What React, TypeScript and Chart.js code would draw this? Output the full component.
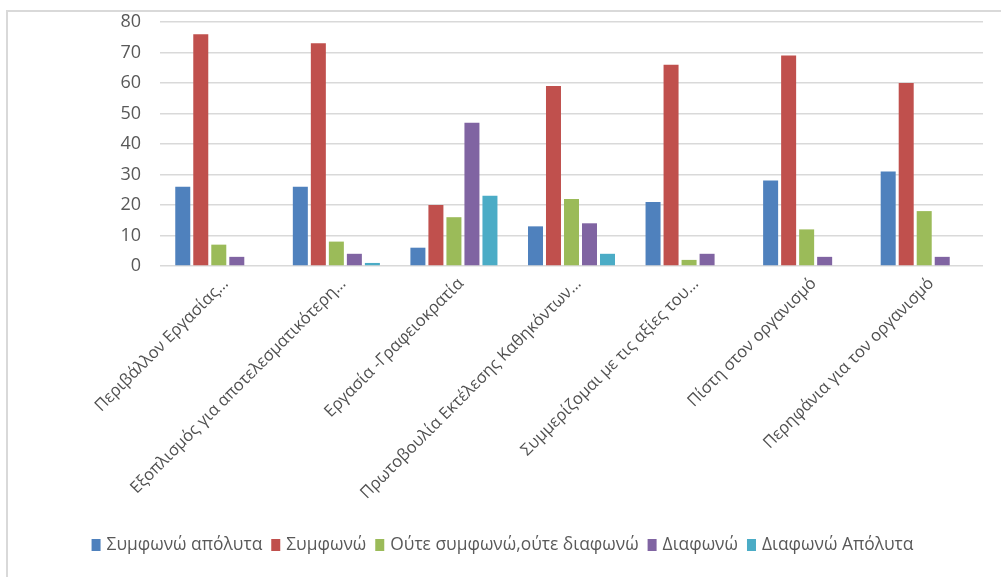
import React, { useEffect, useRef } from "react";
import { Chart, registerables } from "chart.js";

Chart.register(...registerables);

const categories = [
  "Περιβάλλον Εργασίας…",
  "Εξοπλισμός για αποτελεσματικότερη…",
  "Εργασία -Γραφειοκρατία",
  "Πρωτοβουλία Εκτέλεσης Καθηκόντων…",
  "Συμμερίζομαι με τις αξίες του…",
  "Πίστη στον οργανισμό",
  "Περηφάνια για τον οργανισμό",
];

const seriesNames = [
  "Συμφωνώ απόλυτα",
  "Συμφωνώ",
  "Ούτε συμφωνώ,ούτε διαφωνώ",
  "Διαφωνώ",
  "Διαφωνώ Απόλυτα",
];

const agreeFully = [26, 26, 6, 13, 21, 28, 31];
const agree = [76, 73, 20, 59, 66, 69, 60];
const neutral = [7, 8, 16, 22, 2, 12, 18];
const disagree = [3, 4, 47, 14, 4, 3, 3];
const disagreeFully = [0, 1, 23, 4, 0, 0, 0];

const seriesColors = ["#4F81BD", "#C0504D", "#9BBB59", "#8064A2", "#4BACC6"];

const yTicks = [0, 10, 20, 30, 40, 50, 60, 70, 80];

const FONT = "'Open Sans', 'DejaVu Sans', sans-serif";
const TEXT_COLOR = "#595959";

// Light frame around the chart object
const framePlugin = {
  id: "frame",
  beforeDraw(chart: any) {
    const { ctx, width, height } = chart;
    ctx.save();
    ctx.fillStyle = "#ffffff";
    ctx.fillRect(0, 0, width, height);
    ctx.strokeStyle = "#d9d9d9";
    ctx.lineWidth = 2;
    ctx.beginPath();
    ctx.moveTo(7, height);
    ctx.lineTo(7, 11);
    ctx.lineTo(width, 11);
    ctx.stroke();
    ctx.restore();
  },
};

// Compact legend row under the axis labels
const legendPlugin = {
  id: "compactLegend",
  afterDraw(chart: any) {
    const { ctx, width } = chart;
    const datasets = chart.data.datasets;
    const boxW = 9;
    const boxH = 12;
    const boxGap = 6;
    const itemGap = 9;
    const centerY = 545;
    ctx.save();
    ctx.font = `17.4px ${FONT}`;
    ctx.textBaseline = "middle";
    const widths = datasets.map((d: any) => ctx.measureText(d.label).width);
    const total =
      widths.reduce((a: number, b: number) => a + b, 0) +
      datasets.length * (boxW + boxGap) +
      (datasets.length - 1) * itemGap;
    let x = width / 2 + 2 - total / 2;
    datasets.forEach((d: any, i: number) => {
      ctx.fillStyle = d.backgroundColor;
      ctx.fillRect(x, centerY - boxH / 2, boxW, boxH);
      x += boxW + boxGap;
      ctx.fillStyle = TEXT_COLOR;
      ctx.fillText(d.label, x, centerY);
      x += widths[i] + itemGap;
    });
    ctx.restore();
  },
};

export default function App() {
  const ref = useRef<HTMLCanvasElement | null>(null);

  useEffect(() => {
    if (!ref.current) return;
    const values = [agreeFully, agree, neutral, disagree, disagreeFully];
    const chart = new Chart(ref.current, {
      type: "bar",
      data: {
        labels: categories,
        datasets: seriesNames.map((name, i) => ({
          label: name,
          data: values[i],
          backgroundColor: seriesColors[i],
          borderWidth: 0,
          categoryPercentage: 0.766,
          barPercentage: 0.833,
        })),
      },
      options: {
        animation: false,
        responsive: false,
        layout: { padding: { top: 22, right: 18, bottom: 50, left: 0 } },
        plugins: {
          tooltip: { enabled: false },
          legend: { display: false },
        },
        scales: {
          x: {
            grid: { display: false },
            border: { display: false },
            ticks: {
              color: "#505050",
              font: { family: FONT, size: 16.5 },
              minRotation: 45,
              maxRotation: 45,
              autoSkip: false,
              padding: 0,
              labelOffset: 7,
            },
            afterFit(scale: any) {
              scale.height = 261;
            },
          },
          y: {
            min: 0,
            max: 80,
            afterBuildTicks(scale: any) {
              scale.ticks = yTicks.map((v) => ({ value: v }));
            },
            grid: {
              color: "#d9d9d9",
              lineWidth: 1.5,
              drawTicks: true,
              tickLength: 19,
              tickWidth: 0,
              tickColor: "rgba(0,0,0,0)",
            },
            border: { display: false },
            ticks: {
              color: TEXT_COLOR,
              font: { family: FONT, size: 18 },
              padding: 0,
            },
            afterFit(scale: any) {
              scale.width = 160;
            },
          },
        },
      },
      plugins: [framePlugin, legendPlugin],
    });
    return () => chart.destroy();
  }, []);

  return (
    <div style={{ position: "absolute", left: 0, top: 0, width: 1001, height: 577, background: "#fff" }}>
      <canvas ref={ref} width={1001} height={577} style={{ display: "block" }} />
    </div>
  );
}
